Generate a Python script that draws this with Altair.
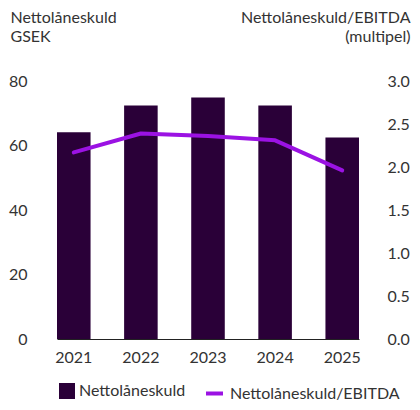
import altair as alt
import pandas as pd

years = ["2021", "2022", "2023", "2024", "2025"]
debt = [64.1, 72.4, 74.9, 72.4, 62.5]
ratio = [2.17, 2.39, 2.36, 2.31, 1.96]

bar_name = "Nettolåneskuld"
line_name = "Nettolåneskuld/EBITDA"

df = pd.DataFrame({"year": years, "debt": debt, "ratio": ratio,
                   "s_bar": bar_name, "s_line": line_name})

FONT = "Lato"
FS = 16
TXT = "#333333"
BAR_C = "#2a0038"
LINE_C = "#9b12e3"

x = alt.X("year:O", title=None,
          scale=alt.Scale(paddingInner=0.5, paddingOuter=0),
          axis=alt.Axis(labelAngle=0, ticks=False, tickSize=0, labelPadding=10,
                        domainColor="#222222", domainWidth=1.2,
                        labelFontSize=FS, labelColor=TXT, labelFont=FONT))

bars = alt.Chart(df).mark_bar(color=BAR_C).encode(
    x=x,
    y=alt.Y("debt:Q", scale=alt.Scale(domain=[0, 80]),
            axis=alt.Axis(values=[0, 20, 40, 60, 80], grid=False, domain=False,
                          ticks=False, tickSize=0, labelPadding=30,
                          labelFontSize=FS, labelColor=TXT, labelFont=FONT,
                          title=["Nettolåneskuld", "GSEK"], titleAngle=0,
                          titleAlign="left", titleBaseline="alphabetic",
                          titleX=-47, titleY=-59, titleFontSize=FS,
                          titleFontWeight="normal", titleColor=TXT,
                          titleFont=FONT, titleLineHeight=19)),
    fill=alt.Fill("s_bar:N", scale=alt.Scale(domain=[bar_name], range=[BAR_C]),
                  legend=alt.Legend(title=None, orient="none", legendX=2, legendY=302,
                                    symbolType="square", symbolSize=256,
                                    symbolStrokeWidth=0, labelOffset=4, labelLimit=300,
                                    labelFontSize=FS, labelColor=TXT, labelFont=FONT)),
)

line = alt.Chart(df).mark_line(strokeWidth=4, strokeCap="round", strokeJoin="round").encode(
    x=x,
    y=alt.Y("ratio:Q", scale=alt.Scale(domain=[0, 3]),
            axis=alt.Axis(orient="right", values=[0, 0.5, 1, 1.5, 2, 2.5, 3], format=".1f",
                          grid=False, domain=False, ticks=False, tickSize=0,
                          labelPadding=28, labelFontSize=FS, labelColor=TXT, labelFont=FONT,
                          title=["Nettolåneskuld/EBITDA", "(multipel)"], titleAngle=0,
                          titleAlign="right", titleBaseline="alphabetic",
                          titleX=51, titleY=-59, titleFontSize=FS,
                          titleFontWeight="normal", titleColor=TXT,
                          titleFont=FONT, titleLineHeight=19)),
    stroke=alt.Stroke("s_line:N", scale=alt.Scale(domain=[line_name], range=[LINE_C]),
                      legend=alt.Legend(title=None, orient="none", legendX=147, legendY=302,
                                        symbolType="stroke", symbolSize=289,
                                        symbolStrokeWidth=4, labelOffset=5, labelLimit=300,
                                        labelFontSize=FS, labelColor=TXT, labelFont=FONT)),
)

chart = alt.layer(bars, line).resolve_scale(
    y="independent", fill="independent", stroke="independent"
).properties(
    width=302, height=258,
    autosize=alt.AutoSizeParams(type="none"),
    padding={"left": 49, "top": 73, "right": 53, "bottom": 63},
).configure(font=FONT).configure_view(stroke=None)

chart.save("out.html", embed_options={"renderer": "svg", "actions": False})
